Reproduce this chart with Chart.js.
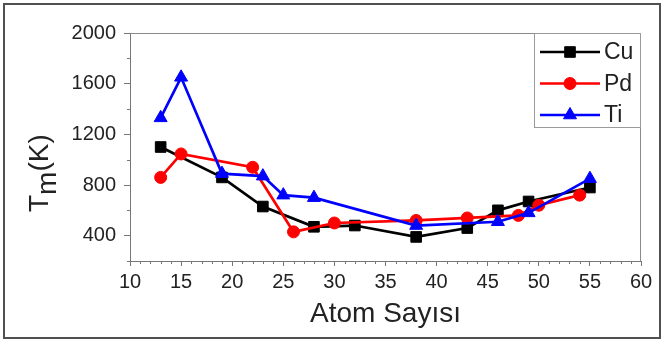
<!DOCTYPE html>
<html>
<head>
<meta charset="utf-8">
<script src="https://cdn.jsdelivr.net/npm/chart.js@4"></script>
<style>
  body { margin: 0; background: #fff; }
  #wrap { width: 664px; height: 342px; position: relative; }
</style>
</head>
<body>
<div id="wrap"><canvas id="c" width="664" height="342"></canvas></div>
<script>
// values
const cu_x = [13, 19, 23, 28, 32, 38, 43, 46, 49, 55];
const cu_y = [1100, 860, 630, 470, 480, 390, 460, 600, 670, 780];
const pd_x = [13, 15, 22, 26, 30, 38, 43, 48, 50, 54];
const pd_y = [860, 1045, 940, 430, 500, 520, 540, 560, 640, 720];
const ti_x = [13, 15, 19, 23, 25, 28, 38, 46, 49, 55];
const ti_y = [1330, 1650, 890, 870, 720, 700, 480, 510, 580, 850];
const series_names = ['Cu', 'Pd', 'Ti'];
const x_label = 'Atom Sayısı';

const FONT = '"Liberation Sans", Arial, sans-serif';

function pts(xs, ys) {
    return xs.map((x, i) => ({x: x, y: ys[i]}));
}

// extra drawing: frame, minor ticks, axis titles, legend box
const decor = {
    id: 'decor',
    afterDraw(chart) {
        const ctx = chart.ctx;
        const a = chart.chartArea;
        const xs = chart.scales.x, ys = chart.scales.y;
        ctx.save();

        // plot box top/right
        ctx.strokeStyle = '#8a8a8a';
        ctx.lineWidth = 1;
        ctx.beginPath();
        ctx.moveTo(a.left, a.top + 0.5);
        ctx.lineTo(a.right - 0.5, a.top + 0.5);
        ctx.lineTo(a.right - 0.5, a.bottom);
        ctx.stroke();

        // minor ticks
        ctx.strokeStyle = '#777';
        ctx.beginPath();
        for (let v = 11; v < 60; v++) {
            if (v % 5 === 0) continue;
            const px = Math.round(xs.getPixelForValue(v)) + 0.5;
            ctx.moveTo(px, a.bottom);
            ctx.lineTo(px, a.bottom + 3);
        }
        for (let v = 200; v < 2000; v += 200) {
            if (v % 400 === 0) continue;
            const py = Math.round(ys.getPixelForValue(v)) + 0.5;
            ctx.moveTo(a.left, py);
            ctx.lineTo(a.left - 3, py);
        }
        ctx.stroke();

        // x title
        ctx.fillStyle = '#222';
        ctx.font = '28px ' + FONT;
        ctx.textAlign = 'center';
        ctx.textBaseline = 'alphabetic';
        ctx.fillText(x_label, (a.left + a.right) / 2, 322);

        // y title T_m(K)
        ctx.save();
        ctx.translate(48, 212);
        ctx.rotate(-Math.PI / 2);
        ctx.textAlign = 'left';
        ctx.font = '28px ' + FONT;
        ctx.fillText('T', 0, 0);
        let w = ctx.measureText('T').width;
        ctx.fillText('m', w, 8);
        w += ctx.measureText('m').width;
        ctx.fillText('(K)', w, 0);
        ctx.restore();

        // legend
        const bx = 534, by = 33, bw = 641 - 534, bh = 95;
        ctx.fillStyle = '#fff';
        ctx.fillRect(bx, by, bw, bh);
        ctx.strokeStyle = '#9a9a9a';
        ctx.lineWidth = 1;
        ctx.strokeRect(bx + 0.5, by + 0.5, bw - 1, bh - 1);
        chart.data.datasets.forEach((ds, i) => {
            const ly = 52 + i * 31.5;
            ctx.strokeStyle = ds.borderColor;
            ctx.fillStyle = ds.borderColor;
            ctx.lineWidth = 2.5;
            ctx.beginPath();
            ctx.moveTo(540, ly);
            ctx.lineTo(600, ly);
            ctx.stroke();
            ctx.lineWidth = 1;
            Chart.helpers.drawPoint(ctx, {
                pointStyle: ds.pointStyle, radius: ds.pointRadius, borderWidth: 1
            }, 570, ly);
            ctx.fillStyle = '#222';
            ctx.font = '23px ' + FONT;
            ctx.textAlign = 'left';
            ctx.textBaseline = 'middle';
            ctx.fillText(ds.label, 604, ly + 1);
        });

        // outer frame
        ctx.strokeStyle = '#505050';
        ctx.lineWidth = 2;
        ctx.strokeRect(4, 4, 656, 334);
        ctx.restore();
    }
};

function make_ds(name, xs, ys, color, style, r, ord) {
    return {
        label: name,
        data: pts(xs, ys),
        borderColor: color,
        backgroundColor: color,
        borderWidth: 2.7,
        pointStyle: style,
        pointRadius: r,
        pointBorderWidth: 1,
        pointBackgroundColor: color,
        pointBorderColor: color,
        order: ord,
        tension: 0
    };
}

const chart_data = {
    datasets: [
        make_ds(series_names[0], cu_x, cu_y, '#000000', 'rect', 7.5, 3),
        make_ds(series_names[1], pd_x, pd_y, '#ff0000', 'circle', 6, 2),
        make_ds(series_names[2], ti_x, ti_y, '#0000ff', 'triangle', 7.5, 1)
    ]
};

const tick_font = {family: FONT, size: 20};

new Chart(document.getElementById('c').getContext('2d'), {
    type: 'line',
    data: chart_data,
    options: {
        responsive: false,
        animation: false,
        events: [],
        layout: {padding: {top: 33, right: 23, left: 0, bottom: 0}},
        plugins: {legend: {display: false}, tooltip: {enabled: false}},
        scales: {
            x: {
                type: 'linear',
                min: 10, max: 60,
                ticks: {stepSize: 5, maxRotation: 0, autoSkip: false, color: '#222', font: tick_font, padding: 4,
                        callback: v => String(v)},
                grid: {drawOnChartArea: false, tickLength: 5, color: '#777'},
                border: {color: '#777', width: 1},
                afterFit(s) { s.height = 81; }
            },
            y: {
                min: 200, max: 2000,
                ticks: {stepSize: 400, color: '#222', font: tick_font, padding: 8,
                        callback: v => String(v)},
                grid: {drawOnChartArea: false, tickLength: 6, color: '#777'},
                border: {color: '#777', width: 1},
                afterBuildTicks(s) { s.ticks = s.ticks.filter(t => t.value >= 400); },
                afterFit(s) { s.width = 130; }
            }
        }
    },
    plugins: [decor]
});
</script>
</body>
</html>
